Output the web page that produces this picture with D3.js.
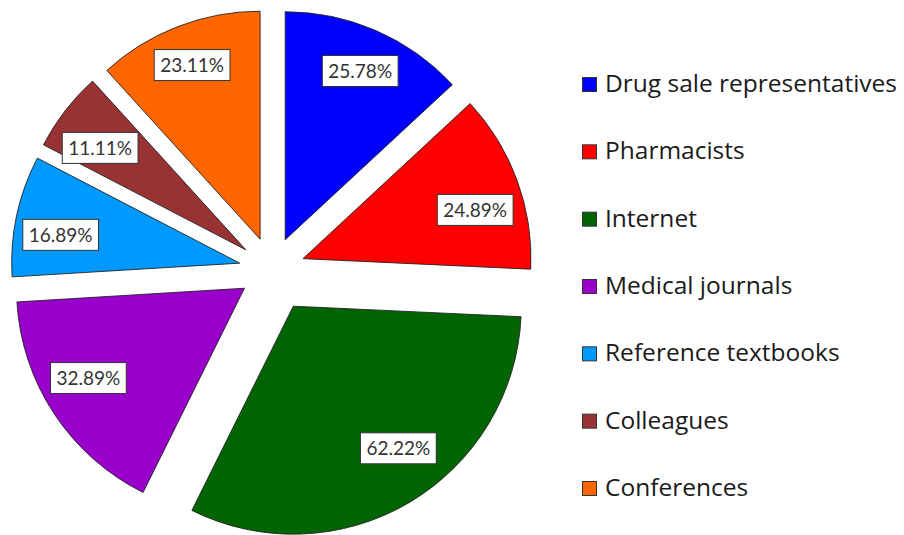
<!DOCTYPE html>
<html>
<head>
<meta charset="utf-8">
<script src="https://cdn.jsdelivr.net/npm/d3@7"></script>
<style>
  html, body { margin: 0; padding: 0; background: #fff; }
  svg { display: block; }
  .lbl { font-family: Lato, "Open Sans", sans-serif; }
  .leg { font-family: "Open Sans", sans-serif; }
</style>
</head>
<body>
<svg id="chart" width="904" height="535"></svg>
<script>
// ---- data ----
const categories = ["Drug sale representatives", "Pharmacists", "Internet", "Medical journals",
                    "Reference textbooks", "Colleagues", "Conferences"];
const values = [25.78, 24.89, 62.22, 32.89, 16.89, 11.11, 23.11];
const labels = ["25.78%", "24.89%", "62.22%", "32.89%", "16.89%", "11.11%", "23.11%"];

// ---- style / layout ----
const colors = ["#0000ff", "#ff0000", "#006400", "#9900cc", "#0099ff", "#993333", "#ff6600"];
const explode = [33, 33, 42, 33, 33, 33, 33];            // slice pull-out distance
const labelShiftDeg = [0.4, 4.3, -6, 3.6, -3, -2.6, -0.2]; // best-fit label angle nudge
const labelDist = [0.81, 0.785, 0.775, 0.79, 0.795, 0.78, 0.82];

const W = 904, H = 535;
const cx = 272, cy = 270, R = 228;

const svg = d3.select("#chart");
const pie = d3.pie().sort(null).value(d => d)(values);
const arc = d3.arc().innerRadius(0).outerRadius(R);

const g = svg.append("g");
pie.forEach((p, i) => {
  const mid = (p.startAngle + p.endAngle) / 2;
  const ox = cx + explode[i] * Math.sin(mid);
  const oy = cy - explode[i] * Math.cos(mid);
  const sg = g.append("g").attr("transform", `translate(${ox},${oy})`);
  sg.append("path")
    .attr("d", arc(p))
    .attr("fill", colors[i])
    .attr("stroke", "#222")
    .attr("stroke-width", 0.9)
    .attr("stroke-linejoin", "miter");
});

// labels
pie.forEach((p, i) => {
  const mid = (p.startAngle + p.endAngle) / 2 + labelShiftDeg[i] * Math.PI / 180;
  const m0 = (p.startAngle + p.endAngle) / 2;
  const ox = cx + explode[i] * Math.sin(m0);
  const oy = cy - explode[i] * Math.cos(m0);
  const lx = ox + labelDist[i] * R * Math.sin(mid);
  const ly = oy - labelDist[i] * R * Math.cos(mid);
  const lg = svg.append("g").attr("transform", `translate(${lx},${ly})`);
  const t = lg.append("text")
    .attr("class", "lbl")
    .attr("text-anchor", "middle")
    .attr("dy", "0.36em")
    .attr("font-size", 19)
    .attr("fill", "#333")
    .text(labels[i]);
  const bw = t.node().getComputedTextLength() + 12;
  const bh = 31;
  lg.insert("rect", "text")
    .attr("x", -bw / 2).attr("y", -bh / 2)
    .attr("width", bw).attr("height", bh)
    .attr("fill", "#fff")
    .attr("stroke", "#333")
    .attr("stroke-width", 1);
});

// legend
const legY = d3.scalePoint().domain(categories).range([92, 496]);
const leg = svg.append("g");
categories.forEach((c, i) => {
  const y = legY(c);
  leg.append("rect")
    .attr("x", 582.5).attr("y", y - 14.5)
    .attr("width", 14).attr("height", 14)
    .attr("fill", colors[i])
    .attr("stroke", "#333").attr("stroke-width", 1);
  leg.append("text")
    .attr("class", "leg")
    .attr("x", 605).attr("y", y)
    .attr("font-size", 24.5)
    .attr("fill", "#1a1a1a")
    .text(c);
});
</script>
</body>
</html>
